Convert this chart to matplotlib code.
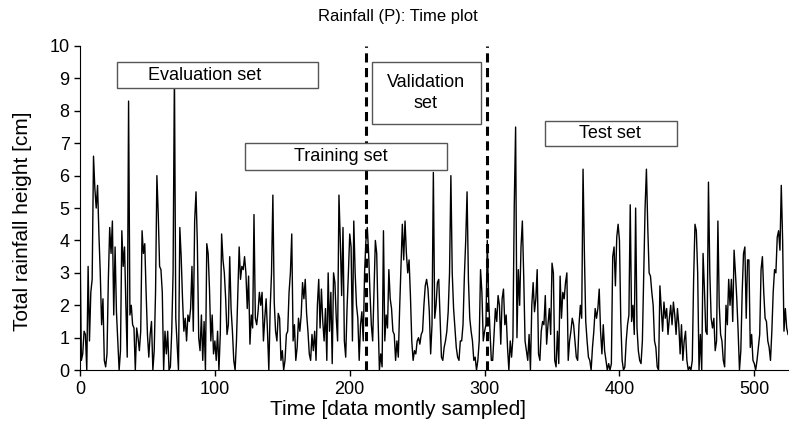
import matplotlib
matplotlib.use("Agg")
import matplotlib.pyplot as plt
from matplotlib.patches import Rectangle

plt.rcParams['font.family'] = ['Liberation Sans', 'DejaVu Sans']

# monthly rainfall totals [cm]
rain = [
    4.0, 0.3, 0.5, 1.2, 1.1, 0.0, 3.2, 0.9, 2.4, 2.8,
    6.6, 5.6, 5.0, 5.7, 4.2, 3.0, 1.4, 2.2, 0.3, 0.1,
    0.5, 2.8, 4.4, 3.6, 4.6, 1.7, 3.8, 1.8, 0.9, 0.0,
    0.6, 4.3, 3.2, 3.8, 2.0, 0.4, 8.3, 1.7, 2.0, 1.4,
    1.3, 0.0, 1.3, 1.0, 0.6, 1.2, 4.3, 3.6, 3.9, 2.4,
    1.1, 0.4, 1.1, 1.5, 0.0, 0.6, 2.4, 6.0, 4.8, 3.2,
    3.1, 2.4, 0.0, 1.2, 0.5, 1.2, 0.0, 0.1, 1.2, 3.0,
    9.2, 1.6, 0.8, 0.0, 4.4, 3.5, 2.2, 1.2, 1.6, 0.9,
    1.7, 1.5, 1.9, 3.2, 1.2, 4.6, 5.5, 3.9, 1.0, 0.6,
    1.7, 0.3, 1.5, 0.0, 3.9, 3.6, 2.5, 0.9, 1.7, 0.5,
    0.9, 0.3, 1.2, 0.0, 1.1, 4.2, 3.4, 3.0, 2.2, 1.1,
    1.4, 3.5, 1.9, 1.2, 0.3, 0.0, 0.9, 2.4, 3.8, 2.8,
    3.2, 3.1, 3.5, 3.0, 1.9, 2.9, 0.8, 1.7, 1.3, 4.8,
    1.6, 1.4, 1.8, 2.4, 2.0, 2.4, 0.9, 1.6, 2.2, 1.2,
    0.0, 1.9, 3.0, 5.4, 2.1, 1.2, 0.9, 1.75, 1.6, 0.3,
    0.6, 0.0, 0.3, 1.1, 1.2, 2.4, 3.0, 4.2, 0.9, 1.4,
    0.3, 0.7, 1.6, 1.2, 1.7, 2.7, 2.2, 2.8, 1.75, 1.2,
    0.5, 0.3, 1.1, 0.6, 1.2, 0.3, 2.0, 2.8, 1.3, 2.5,
    1.5, 0.9, 1.9, 0.3, 3.0, 1.2, 2.4, 0.2, 3.0, 2.7,
    1.6, 0.9, 5.4, 4.0, 2.3, 4.4, 0.9, 0.4, 1.9, 3.0,
    4.2, 3.8, 0.9, 4.6, 3.0, 2.0, 1.6, 0.3, 1.4, 1.8,
    0.9, 3.0, 4.0, 4.4, 3.6, 2.4, 1.4, 0.9, 2.4, 4.0,
    3.6, 1.6, 0.0, 0.5, 0.1, 4.3, 0.9, 1.7, 1.3, 3.1,
    2.2, 1.9, 1.2, 1.1, 0.3, 0.9, 0.4, 1.9, 3.2, 4.5,
    3.4, 4.6, 3.6, 3.0, 3.4, 2.3, 0.9, 0.3, 0.6, 0.5,
    0.9, 1.0, 0.8, 1.1, 1.2, 2.0, 2.6, 2.8, 2.5, 1.8,
    0.5, 1.4, 6.1, 1.6, 2.0, 2.7, 2.8, 1.6, 0.4, 0.3,
    0.7, 0.9, 1.2, 1.8, 3.0, 6.0, 3.0, 1.9, 1.3, 0.7,
    0.4, 0.3, 0.9, 0.9, 1.4, 2.9, 4.0, 5.5, 2.8, 1.6,
    1.2, 0.9, 0.3, 0.4, 0.0, 0.3, 0.9, 3.1, 2.4, 0.9,
    1.2, 1.4, 4.0, 2.2, 1.2, 0.3, 0.3, 1.1, 1.9, 1.5,
    2.3, 2.0, 0.8, 2.2, 2.5, 1.4, 1.7, 0.7, 0.0, 0.9,
    0.4, 1.0, 5.1, 7.5, 1.0, 3.1, 2.0, 3.8, 4.6, 2.9,
    0.9, 0.6, 0.3, 1.1, 0.0, 2.0, 2.7, 1.8, 2.2, 3.1,
    0.5, 0.3, 1.2, 1.5, 1.4, 2.3, 0.8, 1.4, 1.9, 1.1,
    3.3, 3.0, 0.3, 0.1, 1.2, 0.2, 2.9, 1.6, 2.4, 2.2,
    2.7, 3.0, 0.3, 0.9, 1.2, 1.6, 1.4, 0.9, 0.4, 0.3,
    1.4, 2.0, 1.6, 6.2, 3.6, 1.5, 0.9, 0.4, 0.3, 0.0,
    0.7, 1.2, 1.9, 1.6, 1.9, 2.5, 1.2, 0.5, 1.4, 0.6,
    0.3, 0.0, 0.2, 0.0, 0.2, 3.5, 3.8, 2.6, 4.1, 4.5,
    4.0, 1.5, 0.3, 0.0, 0.1, 0.9, 1.4, 1.7, 5.1, 1.5,
    2.0, 1.1, 5.0, 1.3, 0.6, 0.3, 0.2, 0.9, 2.9, 5.0,
    6.2, 4.4, 3.0, 2.9, 2.4, 2.0, 0.9, 0.7, 0.1, 0.0,
    2.6, 1.9, 1.2, 2.1, 1.6, 1.9, 1.1, 1.6, 2.0, 1.4,
    2.1, 1.7, 1.1, 1.9, 1.4, 0.5, 1.4, 0.3, 0.9, 1.2,
    0.3, 0.0, 0.1, 0.0, 0.3, 2.8, 4.5, 4.3, 3.0, 0.0,
    1.1, 0.0, 3.6, 2.5, 1.2, 1.1, 5.8, 3.0, 1.6, 1.3,
    1.6, 0.6, 0.9, 4.6, 2.0, 1.1, 0.9, 0.3, 0.1, 2.0,
    1.4, 2.8, 2.0, 2.8, 1.5, 3.7, 3.0, 2.2, 1.2, 0.0,
    0.6, 2.4, 3.6, 3.8, 1.6, 3.4, 3.4, 0.7, 1.1, 0.3,
    0.2, 0.0, 0.3, 0.7, 1.1, 3.1, 3.5, 2.4, 1.6, 1.5,
    0.9, 0.7, 0.3, 1.2, 2.4, 3.1, 3.0, 4.1, 4.3, 3.7,
    5.7, 4.0, 1.2, 1.9, 1.3, 1.1,
]
months = list(range(len(rain)))

# split points between the data sets (month index)
split_points = [212, 302]

# set labels: (text, box x0, box x1, box y0, box y1, text x)
set_boxes = [
    ("Evaluation set", 27.4, 176.4, 8.7, 9.5, 92.7),
    ("Training set", 122.3, 272.0, 6.17, 7.0, 193.5),
    ("Validation\nset", 216.5, 297.3, 7.6, 9.5, 256.5),
    ("Test set", 344.7, 442.6, 6.9, 7.7, 393.0),
]

fig = plt.figure(figsize=(7.9, 4.38), dpi=100)
ax = fig.add_axes([0.1013, 0.155, 0.8962, 0.740])

ax.plot(months, rain, color='black', lw=1.0, zorder=2)

for xs in split_points:
    ax.plot([xs, xs], [0, 10], color='black', lw=2.2, ls=(0, (3, 1.8)), zorder=3)

for label, x0, x1, y0, y1, tx in set_boxes:
    ax.add_patch(Rectangle((x0, y0), x1 - x0, y1 - y0, facecolor='white',
                           edgecolor='#555555', lw=1.0, zorder=4))
    ax.text(tx, (y0 + y1) / 2, label, ha='center', va='center',
            fontsize=13, zorder=5, linespacing=1.3)

ax.set_xlim(0, 525)
ax.set_ylim(0, 10)
ax.set_xticks(range(0, 501, 100))
ax.set_yticks(range(0, 11))
ax.tick_params(labelsize=13, length=4, width=1, direction='out')
ax.spines['top'].set_visible(False)
ax.spines['right'].set_visible(False)
ax.set_xlabel("Time [data montly sampled]", fontsize=15)
ax.set_ylabel("Total rainfall height [cm]", fontsize=15)
# Excel-style titles are centred on the whole chart, not the plot area
ax.xaxis.set_label_coords(0.449, -0.092)
ax.yaxis.set_label_coords(-0.068, 0.458)
fig.text(0.504, 0.962, "Rainfall (P): Time plot", ha='center', va='center', fontsize=12)

fig.savefig("out.png", dpi=100)
